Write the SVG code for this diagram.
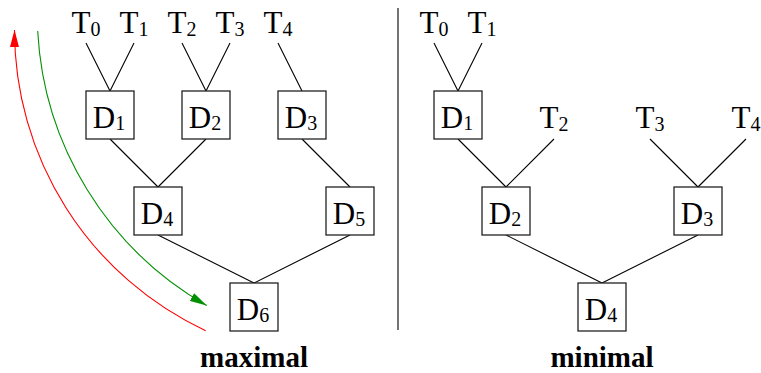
<svg xmlns="http://www.w3.org/2000/svg" width="761" height="373" viewBox="0 0 761 373">
<style>
.box{fill:#fff;stroke:#222;stroke-width:1.3}
.ln{stroke:#000;stroke-width:1.1;fill:none}
.lbl{font-family:"Liberation Serif","Times New Roman",serif;font-size:31px;fill:#000;text-anchor:middle}
.sub{font-size:20px}
.cap{font-family:"Liberation Serif","Times New Roman",serif;font-size:29px;font-weight:bold;fill:#000;text-anchor:middle}
</style>
<defs>
<marker id="ahRed" markerUnits="userSpaceOnUse" viewBox="0 0 17 9" markerWidth="17" markerHeight="9" refX="17" refY="4.5" orient="auto">
<path d="M0,0 L17,4.5 L0,9 z" fill="#ff0000"/>
</marker>
<marker id="ahGreen" markerUnits="userSpaceOnUse" viewBox="0 0 17 9" markerWidth="17" markerHeight="9" refX="17" refY="4.5" orient="auto">
<path d="M0,0 L17,4.5 L0,9 z" fill="#009000"/>
</marker>
</defs>
<rect width="761" height="373" fill="#fff"/>
<g id="connectors">
<path class="ln" d="M86,43 L110,91 M134,43 L110,91 M182,43 L206,91 M230,43 L206,91 M278,43 L302,91"/>
<path class="ln" d="M110,139 L158,187 M206,139 L158,187 M302,139 L350,187"/>
<path class="ln" d="M158,235 L254,283 M350,235 L254,283"/>
<path class="ln" d="M434,43 L458,91 M482,43 L458,91 M458,139 L506,187 M554,139 L506,187 M650,139 L698,187 M746,139 L698,187"/>
<path class="ln" d="M506,235 L602,283 M698,235 L602,283"/>
<path d="M205.7,330.7 A331.5,331.5 0 0 1 14.5,30" fill="none" stroke="#ff0000" stroke-width="1.1" marker-end="url(#ahRed)"/>
<path d="M37.7,31 A336.7,336.7 0 0 0 206.7,305.5" fill="none" stroke="#009000" stroke-width="1.1" marker-end="url(#ahGreen)"/>
<line x1="398" y1="8" x2="398" y2="330" stroke="#000" stroke-width="1.1"/>
</g>
<g id="left-T">
<text class="lbl" x="86" y="33">T<tspan class="sub" dy="2.5">0</tspan></text>
<text class="lbl" x="134" y="33">T<tspan class="sub" dy="2.5">1</tspan></text>
<text class="lbl" x="182" y="33">T<tspan class="sub" dy="2.5">2</tspan></text>
<text class="lbl" x="230" y="33">T<tspan class="sub" dy="2.5">3</tspan></text>
<text class="lbl" x="278" y="33">T<tspan class="sub" dy="2.5">4</tspan></text>
</g>
<g id="L-D1"><rect class="box" x="86" y="91" width="48" height="48"/><text class="lbl" x="109" y="127.5">D<tspan class="sub" dy="2.5">1</tspan></text></g>
<g id="L-D2"><rect class="box" x="182" y="91" width="48" height="48"/><text class="lbl" x="205" y="127.5">D<tspan class="sub" dy="2.5">2</tspan></text></g>
<g id="L-D3"><rect class="box" x="278" y="91" width="48" height="48"/><text class="lbl" x="301" y="127.5">D<tspan class="sub" dy="2.5">3</tspan></text></g>
<g id="L-D4"><rect class="box" x="134" y="187" width="48" height="48"/><text class="lbl" x="157" y="223.5">D<tspan class="sub" dy="2.5">4</tspan></text></g>
<g id="L-D5"><rect class="box" x="326" y="187" width="48" height="48"/><text class="lbl" x="349" y="223.5">D<tspan class="sub" dy="2.5">5</tspan></text></g>
<g id="L-D6"><rect class="box" x="230" y="283" width="48" height="48"/><text class="lbl" x="253" y="319.5">D<tspan class="sub" dy="2.5">6</tspan></text></g>
<g id="right-T">
<text class="lbl" x="434" y="33">T<tspan class="sub" dy="2.5">0</tspan></text>
<text class="lbl" x="482" y="33">T<tspan class="sub" dy="2.5">1</tspan></text>
<text class="lbl" x="554" y="128">T<tspan class="sub" dy="2.5">2</tspan></text>
<text class="lbl" x="650" y="128">T<tspan class="sub" dy="2.5">3</tspan></text>
<text class="lbl" x="746" y="128">T<tspan class="sub" dy="2.5">4</tspan></text>
</g>
<g id="R-D1"><rect class="box" x="434" y="91" width="48" height="48"/><text class="lbl" x="457" y="127.5">D<tspan class="sub" dy="2.5">1</tspan></text></g>
<g id="R-D2"><rect class="box" x="482" y="187" width="48" height="48"/><text class="lbl" x="505" y="223.5">D<tspan class="sub" dy="2.5">2</tspan></text></g>
<g id="R-D3"><rect class="box" x="674" y="187" width="48" height="48"/><text class="lbl" x="697" y="223.5">D<tspan class="sub" dy="2.5">3</tspan></text></g>
<g id="R-D4"><rect class="box" x="578" y="283" width="48" height="48"/><text class="lbl" x="601" y="319.5">D<tspan class="sub" dy="2.5">4</tspan></text></g>
<text class="cap" x="254" y="366.7">maximal</text>
<text class="cap" x="602" y="366.7">minimal</text>
</svg>
